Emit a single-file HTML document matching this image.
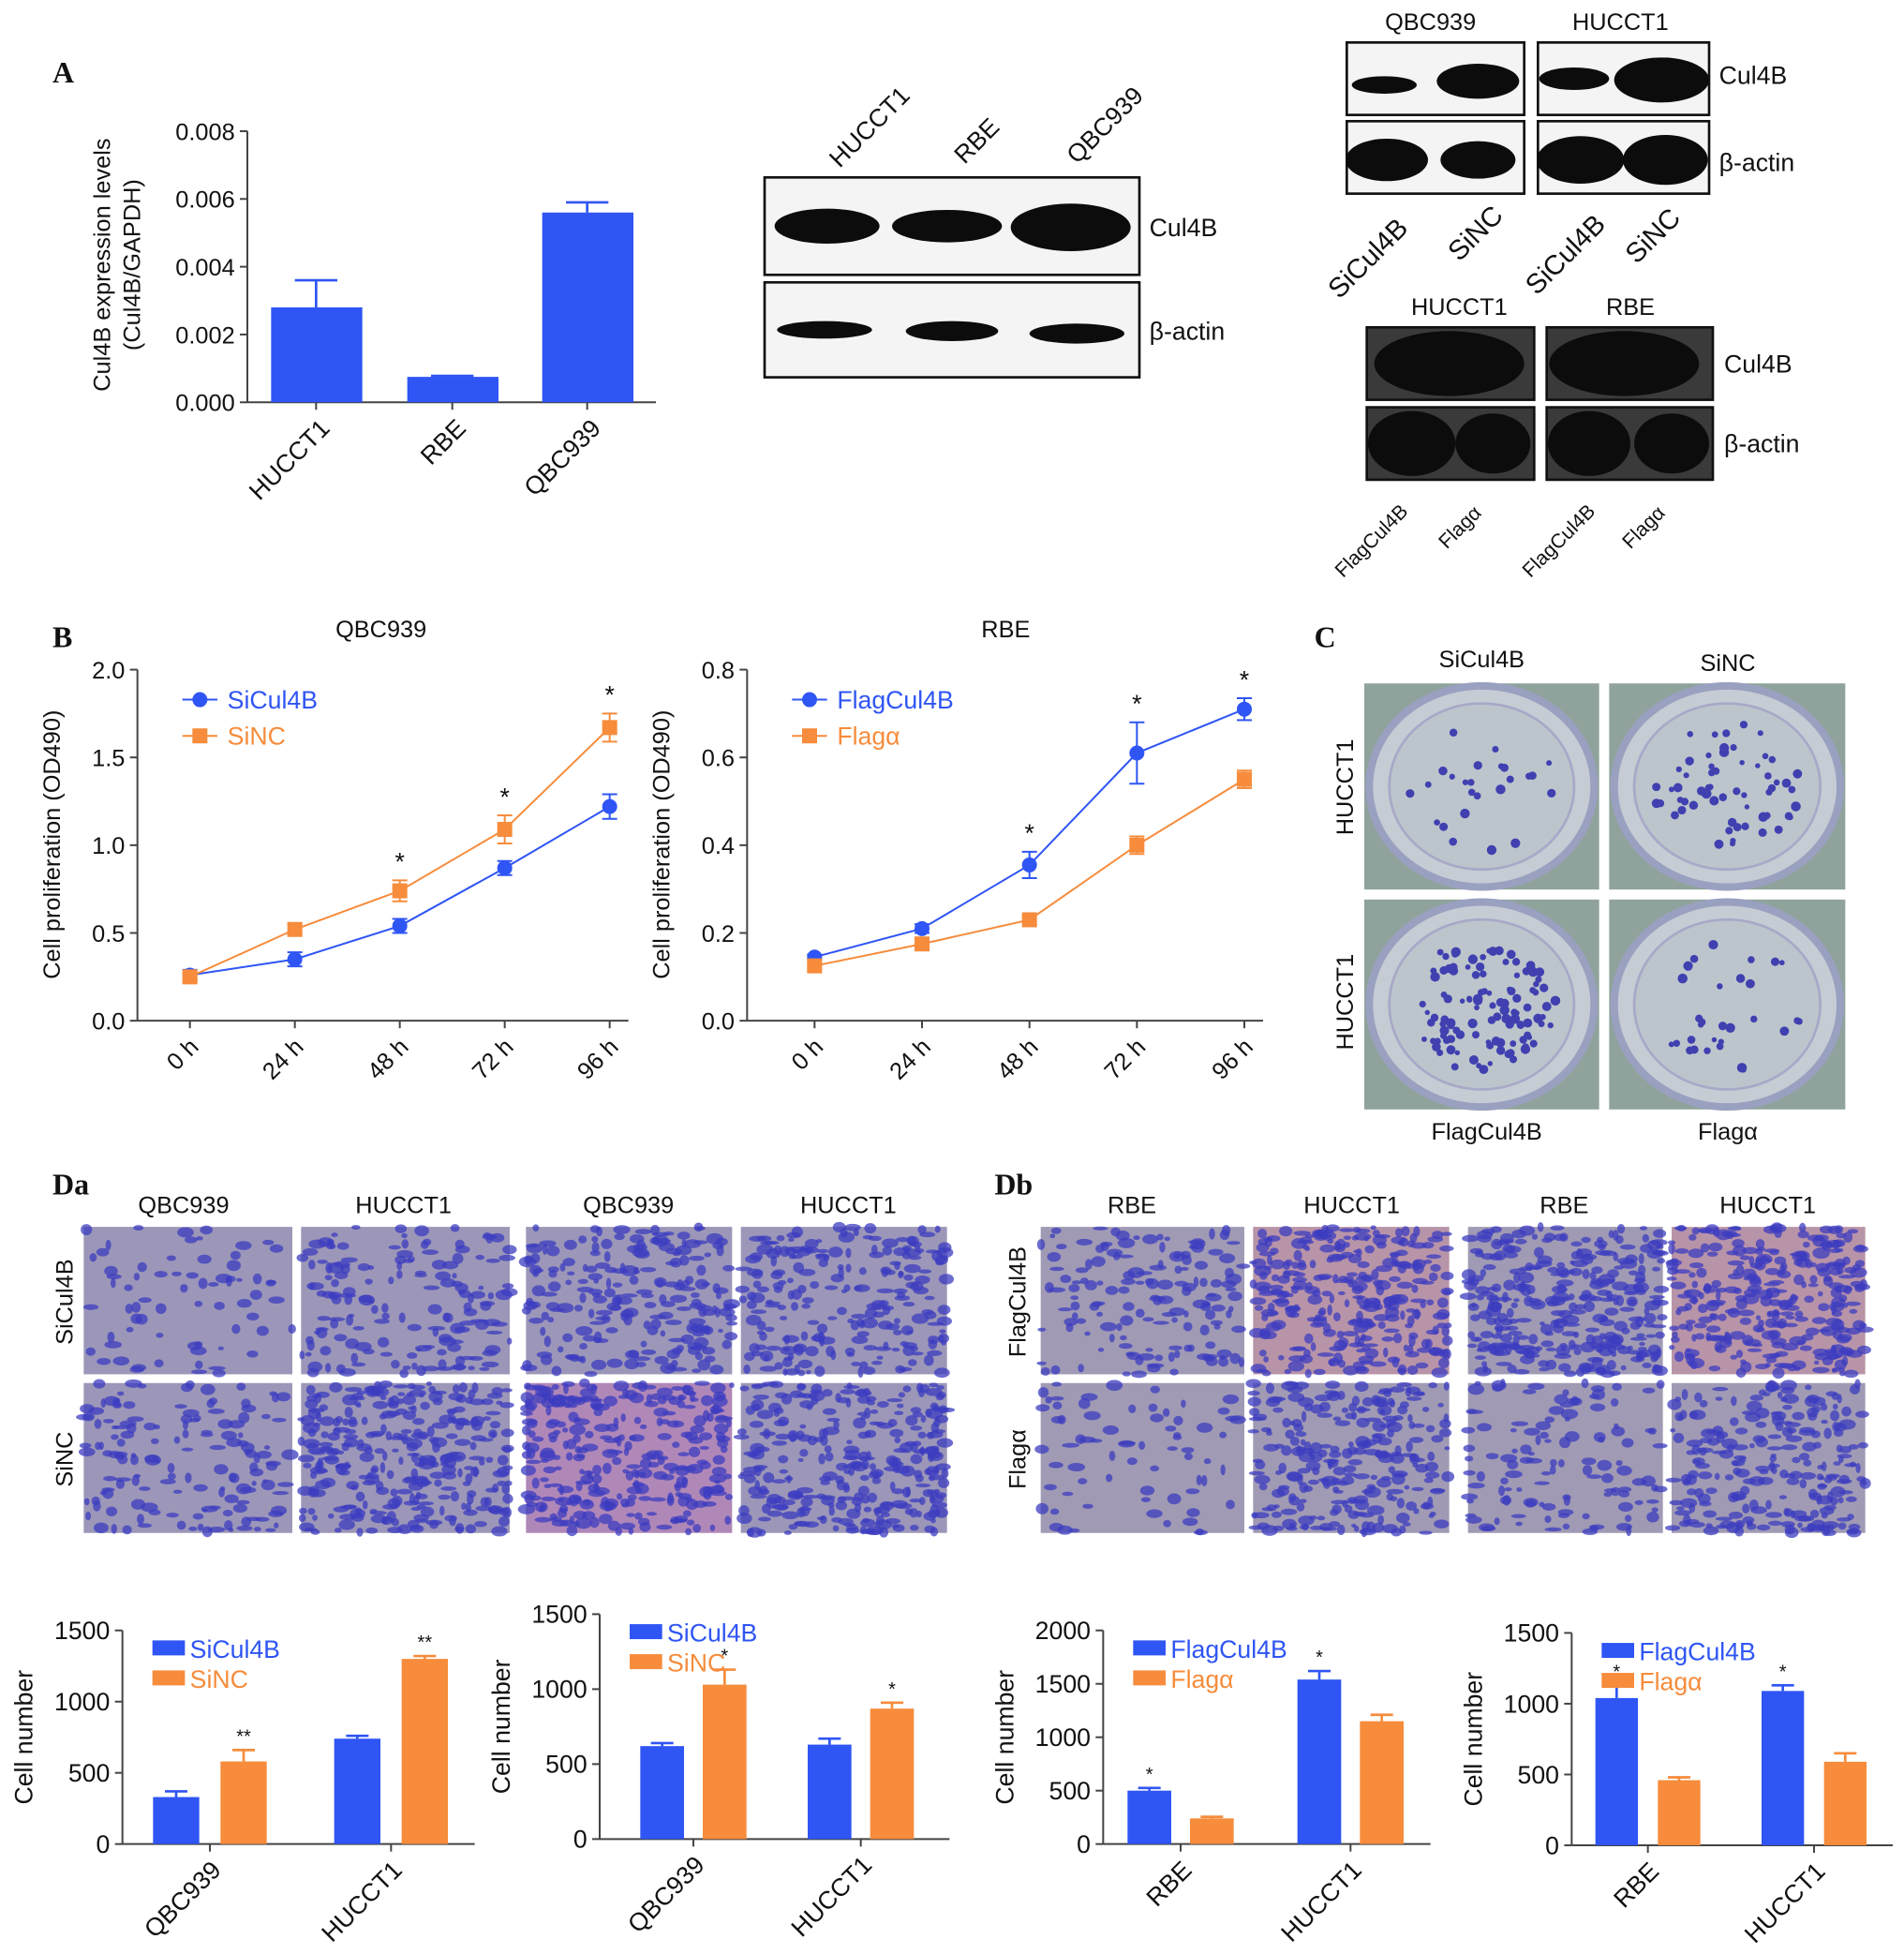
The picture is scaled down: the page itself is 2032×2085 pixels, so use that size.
<!DOCTYPE html>
<html><head><meta charset="utf-8"><style>
html,body{margin:0;padding:0;background:#fff;}
svg{display:block;font-family:"Liberation Sans",Arial,sans-serif;}
.lab{font-family:"Liberation Serif",serif;font-weight:bold;font-size:24px;}
</style></head><body>
<svg id="fig" width="2032" height="2085" viewBox="0 0 1524 1564" preserveAspectRatio="none" xmlns="http://www.w3.org/2000/svg">
<g id="root"></g>
</svg>
<script>
// ---- Panel A bar chart data ----
const aCats = ["HUCCT1","RBE","QBC939"];
const aVals = [0.0028,0.00075,0.0056];
const aErrs = [0.0008,0.00003,0.0003];
const aTicks = [0,0.002,0.004,0.006,0.008];
// ---- Panel B line charts data ----
const bTimes = ["0 h","24 h","48 h","72 h","96 h"];
const qSi = [0.26,0.35,0.54,0.87,1.22];
const qSiErr = [0.03,0.04,0.04,0.04,0.07];
const qNC = [0.25,0.52,0.74,1.09,1.67];
const qNCErr = [0.02,0.03,0.06,0.08,0.08];
const qTicks = [0,0.5,1.0,1.5,2.0];
const rFlag = [0.145,0.21,0.355,0.61,0.71];
const rFlagErr = [0.006,0.01,0.03,0.07,0.025];
const rAlpha = [0.125,0.175,0.23,0.40,0.55];
const rAlphaErr = [0.006,0.01,0.01,0.02,0.02];
const rTicks = [0,0.2,0.4,0.6,0.8];
// ---- Panel D bar charts data ----
const d1Cats = ["QBC939","HUCCT1"]; const d1Blue=[330,740]; const d1BlueErr=[40,20]; const d1Orange=[580,1300]; const d1OrangeErr=[80,20]; const d1Ticks=[0,500,1000,1500];
const d2Cats = ["QBC939","HUCCT1"]; const d2Blue=[620,630]; const d2BlueErr=[20,40]; const d2Orange=[1030,870]; const d2OrangeErr=[100,40]; const d2Ticks=[0,500,1000,1500];
const d3Cats = ["RBE","HUCCT1"]; const d3Blue=[500,1540]; const d3BlueErr=[25,80]; const d3Orange=[240,1150]; const d3OrangeErr=[15,60]; const d3Ticks=[0,500,1000,1500,2000];
const d4Cats = ["RBE","HUCCT1"]; const d4Blue=[1040,1090]; const d4BlueErr=[90,40]; const d4Orange=[460,590]; const d4OrangeErr=[20,60]; const d4Ticks=[0,500,1000,1500];

const NS="http://www.w3.org/2000/svg";
const root=document.getElementById('root');
const BLUE="#2f55f4", ORANGE="#f68c3c";
function el(tag,attrs,parent,text){const e=document.createElementNS(NS,tag);for(const k in attrs)e.setAttribute(k,attrs[k]);if(text!==undefined)e.textContent=text;(parent||root).appendChild(e);return e;}
function txt(x,y,s,size,opts,parent){opts=opts||{};const a={x:x,y:y,'font-size':size,fill:opts.fill||'#111','text-anchor':opts.anchor||'middle'};if(opts.rot!==undefined)a.transform=`rotate(${opts.rot} ${x} ${y})`;if(opts.cls)a['class']=opts.cls;const t=el('text',a,parent,s);return t;}

// panel labels
[["A",42,66],["B",42,518],["C",1052,518],["Da",42,956],["Db",796,956]].forEach(p=>{const t=txt(p[1],p[2],p[0],24,{anchor:'start',cls:'lab',name:'panel-label'});});

// ---------- Panel A bar chart ----------
(function(){
 const g=el('g',{});
 const x0=198,yTop=105,yBot=322,max=0.008;
 const y=v=>yBot-(v/max)*(yBot-yTop);
 el('line',{x1:x0,y1:yTop,x2:x0,y2:yBot,stroke:'#444','stroke-width':1.5},g);
 el('line',{x1:x0,y1:yBot,x2:525,y2:yBot,stroke:'#444','stroke-width':1.5},g);
 aTicks.forEach(t=>{el('line',{x1:x0-6,y1:y(t),x2:x0,y2:y(t),stroke:'#444','stroke-width':1.5},g);txt(x0-10,y(t)+7,t.toFixed(3),19,{anchor:'end',name:'y-tick-label'},g);});
 const xs=[253,362,470];
 aCats.forEach((c,i)=>{const b=el('rect',{x:xs[i]-36,y:y(aVals[i]),width:73,height:yBot-y(aVals[i]),fill:BLUE},g);
  const ye=y(aVals[i]+aErrs[i]);el('line',{x1:xs[i],y1:y(aVals[i]),x2:xs[i],y2:ye,stroke:BLUE,'stroke-width':2},g);el('line',{x1:xs[i]-17,y1:ye,x2:xs[i]+17,y2:ye,stroke:BLUE,'stroke-width':2},g);
  el('line',{x1:xs[i],y1:yBot,x2:xs[i],y2:yBot+6,stroke:'#444','stroke-width':1.5},g);
  txt(xs[i]+12,yBot+22,c,20,{anchor:'end',rot:-45,name:'x-tick-label'},g);});
 txt(88,212,"Cul4B expression levels",19,{rot:-90,name:'y-axis-title'},g);
 txt(112,212,"(Cul4B/GAPDH)",19,{rot:-90,name:'y-axis-title'},g);
})();

// ---------- Western blots ----------
function blot(x,y,w,h,bands,name,dark){const g=el('g',{});
 el('rect',{x:x,y:y,width:w,height:h,fill:dark?'#3a3a3a':'#f4f4f4',stroke:'#111','stroke-width':2},g);
 bands.forEach(b=>{el('ellipse',{cx:b[0],cy:b[1],rx:b[2],ry:b[3],fill:'#0c0c0c'},g);});return g;}
blot(612,142,300,78,[[662,181,42,14],[758,181,44,13],[857,182,48,19]],'blot-cul4b-a');
blot(612,226,300,76,[[660,264,38,7],[762,265,37,8],[862,267,38,8]],'blot-actin-a');
txt(920,189,"Cul4B",20,{anchor:'start',name:'blot-label'});
txt(920,272,"β-actin",20,{anchor:'start',name:'blot-label'});
[["HUCCT1",672,135],["RBE",772,132],["QBC939",862,132]].forEach(p=>txt(p[1],p[2],p[0],20,{anchor:'start',rot:-45,name:'lane-label'}));
// right top
blot(1078,34,142,58,[[1108,68,26,7],[1183,65,33,14]],'blot-cul4b-qbc939',false);
blot(1231,34,137,58,[[1260,63,28,9],[1330,64,38,18]],'blot-cul4b-hucct1',false);
blot(1078,97,142,58,[[1110,128,33,17],[1183,128,30,15]],'blot-actin-qbc939',false);
blot(1231,97,137,58,[[1265,128,35,19],[1333,128,34,20]],'blot-actin-hucct1',false);
txt(1145,24,"QBC939",19,{name:'blot-title'});txt(1297,24,"HUCCT1",19,{name:'blot-title'});
txt(1376,67,"Cul4B",20,{anchor:'start',name:'blot-label'});txt(1376,137,"β-actin",20,{anchor:'start',name:'blot-label'});
[["SiCul4B",1072,240],["SiNC",1168,210],["SiCul4B",1230,237],["SiNC",1310,212]].forEach(p=>txt(p[1],p[2],p[0],22,{anchor:'start',rot:-45,name:'lane-label'}));
// right bottom
blot(1094,262,134,58,[[1160,291,60,26]],'blot-cul4b-hucct1-flag',true);
blot(1238,262,133,58,[[1300,291,60,26]],'blot-cul4b-rbe-flag',true);
blot(1094,326,134,58,[[1130,355,35,26],[1195,355,30,24]],'blot-actin-hucct1-flag',true);
blot(1238,326,133,58,[[1272,355,33,26],[1338,355,30,24]],'blot-actin-rbe-flag',true);
txt(1168,252,"HUCCT1",19,{name:'blot-title'});txt(1305,252,"RBE",19,{name:'blot-title'});
txt(1380,298,"Cul4B",20,{anchor:'start',name:'blot-label'});txt(1380,362,"β-actin",20,{anchor:'start',name:'blot-label'});
[["FlagCul4B",1075,463],["Flagα",1158,440],["FlagCul4B",1225,463],["Flagα",1305,440]].forEach(p=>txt(p[1],p[2],p[0],16,{anchor:'start',rot:-45,name:'lane-label'}));

// ---------- Panel B line charts ----------
function lineChart(cfg){
 const g=el('g',{});
 const x0=cfg.x0,yTop=536,yBot=817;const max=cfg.ticks[cfg.ticks.length-1];
 const y=v=>yBot-(v/max)*(yBot-yTop);
 const x=i=>cfg.xStart+i*cfg.step;
 el('line',{x1:x0,y1:yTop,x2:x0,y2:yBot,stroke:'#444','stroke-width':1.5},g);
 el('line',{x1:x0,y1:yBot,x2:x(4)+15,y2:yBot,stroke:'#444','stroke-width':1.5},g);
 cfg.ticks.forEach(t=>{el('line',{x1:x0-6,y1:y(t),x2:x0,y2:y(t),stroke:'#444','stroke-width':1.5},g);txt(x0-10,y(t)+7,t.toFixed(1),19,{anchor:'end',name:'y-tick-label'},g);});
 bTimes.forEach((t,i)=>{el('line',{x1:x(i),y1:yBot,x2:x(i),y2:yBot+6,stroke:'#444','stroke-width':1.5},g);txt(x(i)+8,yBot+22,t,19,{anchor:'end',rot:-45,name:'x-tick-label'},g);});
 cfg.series.forEach(s=>{
  const pts=s.v.map((v,i)=>x(i)+','+y(v)).join(' ');
  const l=el('polyline',{points:pts,fill:'none',stroke:s.c,'stroke-width':1.5},g);
  s.v.forEach((v,i)=>{const e=s.e[i];el('line',{x1:x(i),y1:y(v-e),x2:x(i),y2:y(v+e),stroke:s.c,'stroke-width':1.5},g);
   [v-e,v+e].forEach(q=>el('line',{x1:x(i)-6,y1:y(q),x2:x(i)+6,y2:y(q),stroke:s.c,'stroke-width':1.5},g));
   const m=s.sq?el('rect',{x:x(i)-6,y:y(v)-6,width:12,height:12,fill:s.c},g):el('circle',{cx:x(i),cy:y(v),r:6,fill:s.c},g);
   });
 });
 cfg.stars.forEach(i=>{const top=Math.max(...cfg.series.map(s=>s.v[i]+s.e[i]));txt(x(i),y(top)-8,"*",20,{name:'significance-star'},g);});
 txt(cfg.titleX,510,cfg.title,19,{name:'chart-title'},g);
 txt(x0-62,676,"Cell proliferation (OD490)",19,{rot:-90,name:'y-axis-title'},g);
 cfg.series.forEach((s,k)=>{const ly=560+k*29;el('line',{x1:x0+36,y1:ly,x2:x0+64,y2:ly,stroke:s.c,'stroke-width':1.5},g);
  if(s.sq)el('rect',{x:x0+44,y:ly-6,width:12,height:12,fill:s.c},g);else el('circle',{cx:x0+50,cy:ly,r:6,fill:s.c},g);
  txt(x0+72,ly+7,s.label,20,{anchor:'start',fill:s.c,name:'legend-entry'},g);});
}
lineChart({name:'proliferation-qbc939',x0:110,xStart:152,step:84,ticks:qTicks,title:"QBC939",titleX:305,stars:[2,3,4],
 series:[{v:qSi,e:qSiErr,c:BLUE,label:"SiCul4B"},{v:qNC,e:qNCErr,c:ORANGE,sq:true,label:"SiNC"}]});
lineChart({name:'proliferation-rbe',x0:598,xStart:652,step:86,ticks:rTicks,title:"RBE",titleX:805,stars:[2,3,4],
 series:[{v:rFlag,e:rFlagErr,c:BLUE,label:"FlagCul4B"},{v:rAlpha,e:rAlphaErr,c:ORANGE,sq:true,label:"Flagα"}]});

// ---------- Panel C colony plates ----------
function plate(x,y,w,h,n,name,seed){const g=el('g',{});
 el('rect',{x:x,y:y,width:w,height:h,fill:'#8fa39c'},g);
 el('ellipse',{cx:x+w/2,cy:y+h/2,rx:w/2-4,ry:h/2-2,fill:'#c5ccd4',stroke:'#9aa0c0','stroke-width':6},g);
 el('ellipse',{cx:x+w/2,cy:y+h/2,rx:w/2-20,ry:h/2-16,fill:'#bcc5cc',stroke:'#a8a8c8','stroke-width':2},g);
 let s=seed;const r=()=>{s=(s*9301+49297)%233280;return s/233280;};
 for(let i=0;i<n;i++){const a=r()*6.283,d=Math.sqrt(r())*0.8;el('circle',{cx:x+w/2+Math.cos(a)*d*(w/2-20),cy:y+h/2+Math.sin(a)*d*(h/2-16),r:2+r()*2,fill:'#4040b0'},g);}}
plate(1092,547,188,165,25,'colony-sicul4b',3);plate(1288,547,189,165,60,'colony-sinc',7);
plate(1092,720,188,168,110,'colony-flagcul4b',11);plate(1288,720,189,168,30,'colony-flagalpha',17);
txt(1186,534,"SiCul4B",19,{name:'column-label'});txt(1383,537,"SiNC",19,{name:'column-label'});
txt(1190,912,"FlagCul4B",19,{name:'column-label'});txt(1383,912,"Flagα",19,{name:'column-label'});
txt(1083,630,"HUCCT1",19,{rot:-90,name:'row-label'});txt(1083,802,"HUCCT1",19,{rot:-90,name:'row-label'});

// ---------- Panel D micrographs ----------
function micro(x,y,w,h,dens,bg,name,seed){const g=el('g',{});
 el('rect',{x:x,y:y,width:w,height:h,fill:bg},g);
 let s=seed;const r=()=>{s=(s*9301+49297)%233280;return s/233280;};
 for(let i=0;i<dens;i++){el('ellipse',{cx:x+r()*w,cy:y+r()*h,rx:2+r()*5,ry:1.5+r()*3,fill:'#3c3cc0',opacity:0.75},g);}}
const rowsY=[[982,118],[1107,120]];
const da=[[67,167],[241,167],[421,165],[593,165]];
const dDens=[[70,160,220,230],[150,320,300,300]];
da.forEach((c,j)=>rowsY.forEach((rw,i)=>micro(c[0],rw[0],c[1],rw[1],dDens[i][j],(i==1&&j==2)?'#b088b8':'#9c97b8','migration-image',j*13+i*5+1)));
const db=[[833,163],[1003,157],[1175,156],[1338,155]];
const dbDens=[[150,300,320,300],[70,260,120,240]];
db.forEach((c,j)=>rowsY.forEach((rw,i)=>micro(c[0],rw[0],c[1],rw[1],dbDens[i][j],(j==1&&i==0)||(j==3&&i==0)?'#b894a8':'#a09ab4','migration-image',j*17+i*7+2)));
[["QBC939",147],["HUCCT1",323],["QBC939",503],["HUCCT1",679]].forEach(p=>txt(p[1],971,p[0],19,{name:'column-label'}));
[["RBE",906],["HUCCT1",1082],["RBE",1252],["HUCCT1",1415]].forEach(p=>txt(p[1],971,p[0],19,{name:'column-label'}));
txt(58,1042,"SiCul4B",19,{rot:-90,name:'row-label'});txt(58,1168,"SiNC",19,{rot:-90,name:'row-label'});
txt(821,1042,"FlagCul4B",19,{rot:-90,name:'row-label'});txt(821,1168,"Flagα",19,{rot:-90,name:'row-label'});

// ---------- Panel D bar charts ----------
function barChart(cfg){
 const g=el('g',{});
 const max=cfg.ticks[cfg.ticks.length-1];const y=v=>cfg.yBot-(v/max)*(cfg.yBot-cfg.yTop);
 el('line',{x1:cfg.x0,y1:cfg.yTop,x2:cfg.x0,y2:cfg.yBot,stroke:'#444','stroke-width':1.5},g);
 el('line',{x1:cfg.x0,y1:cfg.yBot,x2:cfg.x1,y2:cfg.yBot,stroke:'#444','stroke-width':1.5},g);
 cfg.ticks.forEach(t=>{el('line',{x1:cfg.x0-6,y1:y(t),x2:cfg.x0,y2:y(t),stroke:'#444','stroke-width':1.5},g);txt(cfg.x0-10,y(t)+7,String(t),20,{anchor:'end',name:'y-tick-label'},g);});
 cfg.cats.forEach((c,i)=>{const gx=cfg.gx[i];
  [[cfg.blue,cfg.blueErr,BLUE,gx-cfg.off],[cfg.orange,cfg.orangeErr,ORANGE,gx+cfg.off]].forEach((s,k)=>{
   const v=s[0][i],e=s[1][i],cx=s[3];
   const b=el('rect',{x:cx-cfg.bw/2,y:y(v),width:cfg.bw,height:cfg.yBot-y(v),fill:s[2]},g);
   el('line',{x1:cx,y1:y(v),x2:cx,y2:y(v+e),stroke:s[2],'stroke-width':2},g);el('line',{x1:cx-9,y1:y(v+e),x2:cx+9,y2:y(v+e),stroke:s[2],'stroke-width':2},g);
   const st=cfg.stars[i][k];if(st)txt(cx,y(v+e)-6,st,15,{name:'significance-star'},g);});
  el('line',{x1:gx,y1:cfg.yBot,x2:gx,y2:cfg.yBot+6,stroke:'#444','stroke-width':1.5},g);
  txt(gx+10,cfg.yBot+22,c,20,{anchor:'end',rot:-45,name:'x-tick-label'},g);});
 txt(cfg.x0-72,(cfg.yTop+cfg.yBot)/2,"Cell number",20,{rot:-90,name:'y-axis-title'},g);
 cfg.leg.forEach((l,k)=>{const ly=cfg.yTop+10+k*24;el('rect',{x:cfg.x0+24,y:ly-2,width:26,height:12,fill:k?ORANGE:BLUE},g);txt(cfg.x0+54,ly+12,l,20,{anchor:'start',fill:k?ORANGE:BLUE,name:'legend-entry'},g);});
}
barChart({name:'cell-number-da-1',x0:98,x1:380,yTop:1305,yBot:1476,ticks:d1Ticks,cats:d1Cats,gx:[168,313],off:27,bw:37,blue:d1Blue,blueErr:d1BlueErr,orange:d1Orange,orangeErr:d1OrangeErr,stars:[[0,'**'],[0,'**']],leg:["SiCul4B","SiNC"]});
barChart({name:'cell-number-da-2',x0:480,x1:760,yTop:1292,yBot:1472,ticks:d2Ticks,cats:d2Cats,gx:[555,689],off:25,bw:35,blue:d2Blue,blueErr:d2BlueErr,orange:d2Orange,orangeErr:d2OrangeErr,stars:[[0,'*'],[0,'*']],leg:["SiCul4B","SiNC"]});
barChart({name:'cell-number-db-1',x0:883,x1:1145,yTop:1305,yBot:1476,ticks:d3Ticks,cats:d3Cats,gx:[945,1081],off:25,bw:35,blue:d3Blue,blueErr:d3BlueErr,orange:d3Orange,orangeErr:d3OrangeErr,stars:[['*',0],['*',0]],leg:["FlagCul4B","Flagα"]});
barChart({name:'cell-number-db-2',x0:1258,x1:1515,yTop:1307,yBot:1477,ticks:d4Ticks,cats:d4Cats,gx:[1319,1452],off:25,bw:34,blue:d4Blue,blueErr:d4BlueErr,orange:d4Orange,orangeErr:d4OrangeErr,stars:[['*',0],['*',0]],leg:["FlagCul4B","Flagα"]});
</script>
</body></html>
